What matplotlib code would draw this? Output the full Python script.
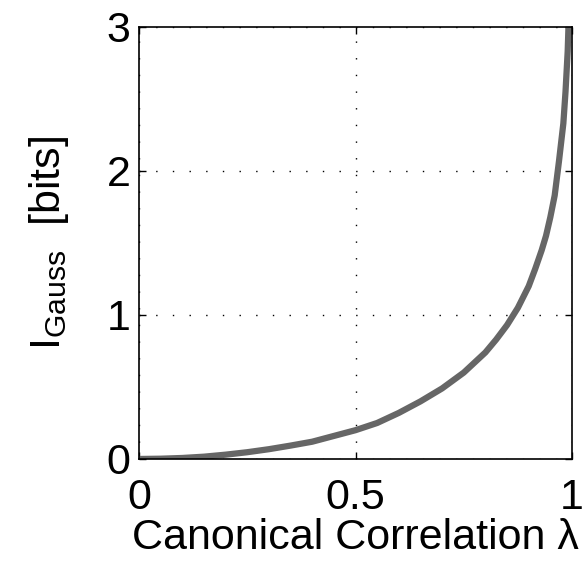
import matplotlib
matplotlib.use("Agg")
import matplotlib.pyplot as plt

plt.rcParams["font.family"] = ["Liberation Sans", "DejaVu Sans"]
plt.rcParams["mathtext.fontset"] = "custom"
plt.rcParams["mathtext.rm"] = "Liberation Sans"
plt.rcParams["mathtext.it"] = "Liberation Sans"

# canonical correlation vs. Gaussian mutual information (bits)
lam = [0.0, 0.05, 0.1, 0.15, 0.2, 0.25, 0.3, 0.35, 0.4, 0.45, 0.5, 0.55,
       0.6, 0.65, 0.7, 0.75, 0.8, 0.825, 0.85, 0.875, 0.9, 0.915, 0.93,
       0.94, 0.95, 0.96, 0.97, 0.975, 0.98, 0.985, 0.99, 0.995]
info_bits = [0.0, 0.002, 0.007, 0.016, 0.03, 0.047, 0.068, 0.093, 0.12,
             0.16, 0.2, 0.25, 0.32, 0.4, 0.49, 0.6, 0.74, 0.83, 0.93, 1.05,
             1.2, 1.32, 1.45, 1.55, 1.68, 1.83, 2.07, 2.2, 2.33, 2.55, 2.83,
             3.3]

xticks = [0, 0.5, 1]
xticklabels = ["0", "0.5", "1"]
yticks = [0, 1, 2, 3]

fig = plt.figure(figsize=(5.88, 5.62), dpi=100)
ax = fig.add_axes([0.2364, 0.1833, 0.7364, 0.7687])

ax.plot(lam, info_bits, color="#666666", linewidth=4.5,
        solid_joinstyle="round")

ax.set_xlim(0, 1)
ax.set_ylim(0, 3)
ax.set_xticks(xticks)
ax.set_xticklabels(xticklabels)
ax.set_yticks(yticks)
ax.tick_params(direction="in", length=5, width=1, labelsize=31, pad=6,
               top=True, right=True)
ax.tick_params(axis="x", pad=14)
for sp in ax.spines.values():
    sp.set_linewidth(1.2)

ax.grid(True, color="black", linestyle=(0, (1, 11)), linewidth=1.0)

ax.set_xlabel("Canonical Correlation \u03bb", fontsize=31, labelpad=0)
ax.set_ylabel(r"$\mathregular{I_{Gauss}}$  [bits]", fontsize=31, labelpad=26)

fig.savefig("out.png", dpi=100)
